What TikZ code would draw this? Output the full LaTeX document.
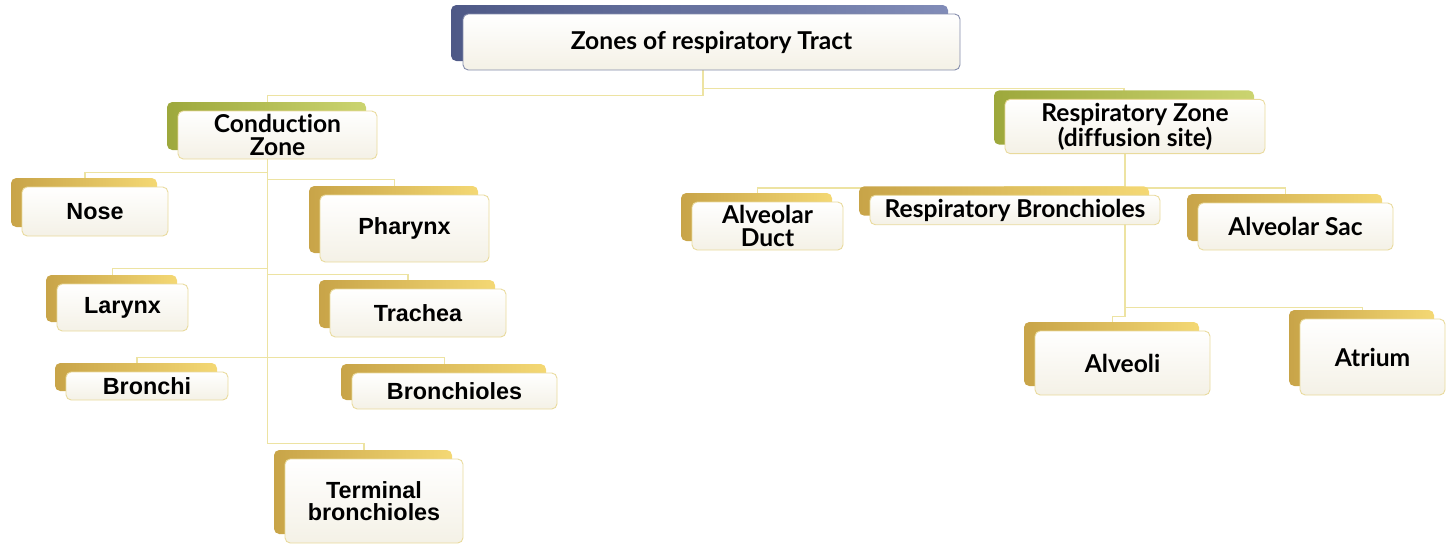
\documentclass[tikz,border=0pt]{standalone}
\usepackage{fontspec}
\setmainfont{Liberation Sans}
\newfontfamily\gill[Ligatures={NoCommon,NoRare}]{Lato}
\usetikzlibrary{shadows,backgrounds}

\definecolor{linkcol}{HTML}{EDE3A2}
\definecolor{boxline}{HTML}{E9DA9C}
\definecolor{boxfill}{HTML}{F4F1E6}
\definecolor{golddark}{HTML}{C8A448}
\definecolor{goldlight}{HTML}{F4D874}
\definecolor{greendark}{HTML}{9DA83C}
\definecolor{greenlight}{HTML}{CBD470}
\definecolor{bluedark}{HTML}{4E5987}
\definecolor{bluelight}{HTML}{818CB8}

\begin{document}
\begin{tikzpicture}[x=0.02cm,y=-0.02cm,
  main node/.style={rectangle,rounded corners=3pt,draw=boxline,line width=0.5pt,top color=white,bottom color=boxfill,align=center,inner sep=2pt},
  arial/.style={font=\bfseries\fontsize{13.3}{12.5}\selectfont},
  gill/.style={font=\gill\bfseries\fontsize{14}{12.8}\selectfont},
  gold tab/.style={general shadow={shadow xshift=-0.22cm,shadow yshift=0.18cm,left color=golddark,right color=goldlight}},
  green tab/.style={general shadow={shadow xshift=-0.22cm,shadow yshift=0.18cm,left color=greendark,right color=greenlight}},
  blue tab/.style={general shadow={shadow xshift=-0.24cm,shadow yshift=0.18cm,left color=bluedark,right color=bluelight}},
  sz/.style 2 args={minimum width=#1*0.02cm,minimum height=#2*0.02cm},
  link/.style={draw=linkcol,line width=0.7pt}]
  \useasboundingbox (0,0) rectangle (1450,545);

  % top level
  \node[main node,blue tab,gill,draw=bluedark!70,sz={497}{56}] (top) at (711.5,42) {Zones of respiratory Tract};

  % zones
  \node[main node,green tab,gill,sz={199}{48}] (cond) at (277.5,135) {Conduction\\Zone};
  \node[main node,green tab,gill,sz={260}{51}] (resp) at (1135,126.5) {Respiratory Zone\\(diffusion site)};

  % conduction zone
  \node[main node,gold tab,arial,sz={146}{49}] (nose) at (95,211.5) {Nose};
  \node[main node,gold tab,arial,sz={169}{67}] (pharynx) at (404.5,228.5) {Pharynx};
  \node[main node,gold tab,arial,sz={131}{47}] (larynx) at (122.5,307.5) {Larynx};
  \node[main node,gold tab,arial,sz={176}{48}] (trachea) at (418,313) {Trachea};
  \node[main node,gold tab,arial,sz={162}{28}] (bronchi) at (147,386) {Bronchi};
  \node[main node,gold tab,arial,sz={205}{36}] (bronchioles) at (454.5,391) {Bronchioles};
  \node[main node,gold tab,arial,sz={178}{84}] (terminal) at (374,501) {Terminal\\bronchioles};

  % respiratory zone
  \node[main node,gold tab,gill,sz={151}{48}] (duct) at (767.5,226) {Alveolar\\Duct};
  \node[main node,gold tab,gill,sz={290}{22}] (respbr) at (1015,210) {Respiratory Bronchioles};
  \node[main node,gold tab,gill,sz={195}{47}] (sac) at (1295.5,226.5) {Alveolar Sac};
  \node[main node,gold tab,gill,sz={175}{64}] (alveoli) at (1122.5,363) {Alveoli};
  \node[main node,gold tab,gill,sz={145}{76}] (atrium) at (1372.5,357) {Atrium};

  \begin{pgfonlayer}{background}
    \draw[link] ([xshift=-1.7mm]top.south) -- ++(0,25) -| ([xshift=-2mm]cond.north);
    \draw[link] ([xshift=-1.7mm]top.south) -- ++(0,18) -| ([xshift=-2.2mm]resp.north);
    \foreach \n/\d in {nose/13,pharynx/20,larynx/109,trachea/115,bronchi/198,bronchioles/198,terminal/284}
      \draw[link] ([xshift=-2mm]cond.south) -- ++(0,\d) -| ([xshift=-2mm]\n.north);
    \foreach \n/\d in {duct/34,respbr/33,sac/34,atrium/153,alveoli/162}
      \draw[link] ([xshift=-2mm]resp.south) -- ++(0,\d) -| ([xshift=-2mm]\n.north);
  \end{pgfonlayer}
\end{tikzpicture}
\end{document}
